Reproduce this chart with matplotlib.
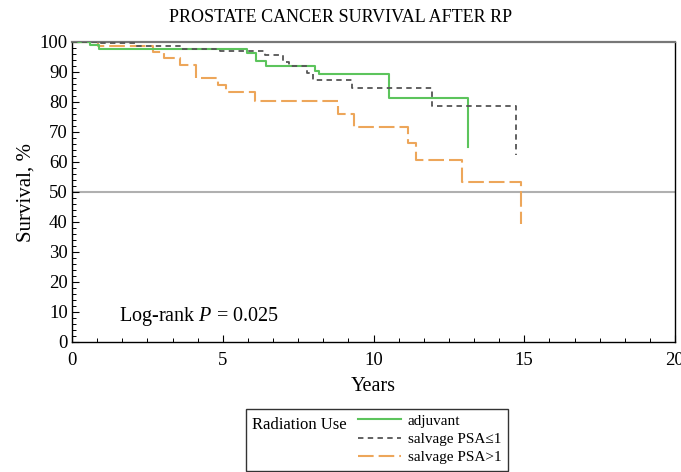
import matplotlib
matplotlib.use("Agg")
import matplotlib.pyplot as plt
from matplotlib.ticker import MultipleLocator
from matplotlib.lines import Line2D
from matplotlib.patches import Rectangle

plt.rcParams['font.family'] = ['Liberation Serif', 'DejaVu Serif']
plt.rcParams['mathtext.fontset'] = 'custom'
plt.rcParams['mathtext.rm'] = 'Liberation Serif'
plt.rcParams['mathtext.it'] = 'Liberation Serif:italic'

# Data (Kaplan-Meier step estimates)
adj_t = [0, 0.6, 0.9, 5.8, 6.1, 6.45, 8.05, 8.2, 10.5, 13.12]
adj_s = [100, 99.0, 97.8, 96.2, 93.8, 92.1, 90.3, 89.2, 81.2, 64.9]

sal1_t = [0, 0.9, 2.1, 3.6, 4.9, 6.4, 7.0, 7.2, 7.8, 8.0, 9.28, 11.93, 14.73]
sal1_s = [100, 99.6, 98.8, 97.7, 97.1, 95.7, 93.5, 92.1, 89.6, 87.3, 84.7, 78.7, 62.3]

sal2_t = [0, 0.85, 2.7, 3.04, 3.57, 4.11, 4.84, 5.1, 6.08, 8.83, 9.35, 11.15, 11.4, 12.92, 14.89]
sal2_s = [100, 98.8, 96.6, 94.6, 92.3, 88.1, 85.7, 83.2, 80.5, 76.0, 71.8, 66.4, 60.7, 53.2, 39.3]

labels = ['adjuvant', 'salvage PSA\u22641', 'salvage PSA>1']
legend_title = 'Radiation Use'
title = 'PROSTATE CANCER SURVIVAL AFTER RP'
logrank_text = r'Log-rank $P$ = 0.025'

c_green = '#5cc45c'
c_gray = '#555555'
c_orange = '#eda65a'

fig = plt.figure(figsize=(6.81, 4.72), dpi=100)
ax = fig.add_axes([72/681, 1-342/472, (675-72)/681, 300/472])

ax.axhline(50, color='#b0b0b0', lw=1.5, zorder=1)

l1, = ax.step(adj_t, adj_s, where='post', color=c_green, lw=1.5, zorder=3)
l2, = ax.step(sal1_t, sal1_s, where='post', color=c_gray, lw=1.3,
              dashes=(3.0, 2.4), zorder=4)
l3, = ax.step(sal2_t, sal2_s, where='post', color=c_orange, lw=1.5,
              dashes=(7.5, 2.4), zorder=2)

ax.set_xlim(0, 20)
ax.set_ylim(0, 100)
ax.xaxis.set_major_locator(MultipleLocator(5))
ax.xaxis.set_minor_locator(MultipleLocator(5/6))
ax.yaxis.set_major_locator(MultipleLocator(10))
ax.yaxis.set_minor_locator(MultipleLocator(2))
ax.tick_params(which='both', direction='in', labelsize=13.5, color='black')
ax.tick_params(which='major', length=5, width=0.8)
ax.tick_params(which='minor', length=3, width=0.7)
ax.tick_params(axis='y', pad=3)
ax.tick_params(axis='x', pad=7)

for s in ['left', 'bottom', 'right']:
    ax.spines[s].set_color('black')
    ax.spines[s].set_linewidth(1.0)
ax.spines['top'].set_color('#777777')
ax.spines['top'].set_linewidth(1.6)

ax.set_xlabel('Years', fontsize=14.5, labelpad=6)
ax.set_ylabel('Survival, %', fontsize=15, labelpad=3)

ax.text(1.57, 7.1, logrank_text, fontsize=14.5, va='baseline', ha='left')

fig.text(0.5, 1-22/472, title, fontsize=13, ha='center', va='baseline')

# Legend box
fig.patches.append(Rectangle((246/681, 1-471/472), (508-246)/681, (471-409)/472,
                             transform=fig.transFigure, fill=False,
                             edgecolor='#333333', lw=1.0))
fig.text(252/681, 1-429/472, legend_title, fontsize=12, ha='left', va='baseline')
h1 = Line2D([], [], color=c_green, lw=1.5)
h2 = Line2D([], [], color=c_gray, lw=1.3, dashes=(3.0, 2.4))
h3 = Line2D([], [], color=c_orange, lw=1.5, dashes=(7.5, 2.4))
fig.legend([h1, h2, h3], labels, loc='upper left',
           bbox_to_anchor=(358/681, 1-414/472), frameon=False, fontsize=11,
           handlelength=2.8, handletextpad=0.45, labelspacing=0.3,
           borderpad=0.0, borderaxespad=0.0)

fig.savefig('out.png', dpi=100)
